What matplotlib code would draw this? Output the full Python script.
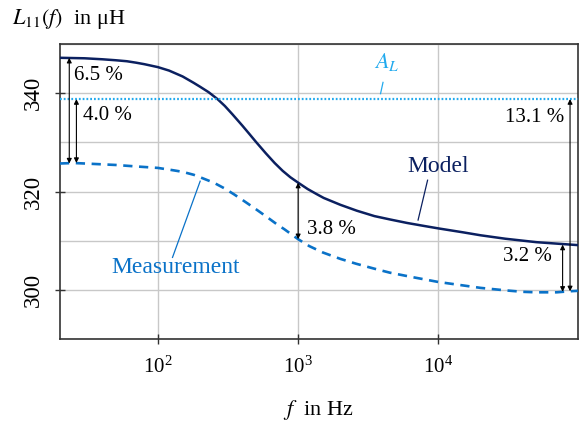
"""Inductance L11(f): model vs. measurement, with A_L reference."""

import matplotlib
matplotlib.use("Agg")
import matplotlib.pyplot as plt
from matplotlib.ticker import FixedLocator, MultipleLocator, NullLocator, LogFormatterMathtext

plt.rcParams["font.family"] = "serif"
plt.rcParams["font.serif"] = ["Liberation Serif", "DejaVu Serif"]
plt.rcParams["mathtext.fontset"] = "stix"

# data
model_f = [20, 30, 40, 50, 60, 70, 80, 100, 120, 150, 180, 200, 230, 266, 300,
           340, 400, 446, 500, 587, 680, 776, 880, 1000, 1170, 1350, 1520, 2000,
           2620, 3500, 4550, 6000, 7900, 10000, 15000, 20000, 30000, 50000,
           70000, 99000]
model_L = [347.2, 347.1, 346.9, 346.7, 346.5, 346.2, 345.9, 345.3, 344.6, 343.4,
           342.1, 341.3, 340.2, 338.8, 337.4, 335.7, 333.4, 331.8, 330.1, 327.8,
           325.8, 324.2, 322.9, 321.8, 320.5, 319.5, 318.7, 317.3, 316.1, 315.0,
           314.3, 313.6, 313.0, 312.5, 311.7, 311.1, 310.4, 309.7, 309.4, 309.1]

meas_f = [20, 25, 30, 50, 70, 100, 130, 150, 180, 200, 250, 300, 350, 400, 450,
          500, 600, 700, 800, 1000, 1200, 1500, 2000, 2600, 3500, 4500, 6500,
          10000, 15000, 20000, 30000, 40000, 50000, 70000, 85000, 99000]
meas_L = [325.7, 325.8, 325.7, 325.4, 325.1, 324.8, 324.3, 324.0, 323.4, 322.9,
          321.8, 320.6, 319.4, 318.3, 317.3, 316.4, 314.8, 313.4, 312.3, 310.3,
          308.9, 307.6, 306.3, 305.3, 304.3, 303.5, 302.6, 301.6, 300.9, 300.4,
          299.9, 299.6, 299.5, 299.5, 299.7, 299.8]

A_L = 338.8

arrow_f = [23.3, 26.2, 1000, 87000, 77000]
arrow_top = [347.2, 338.8, 321.8, 338.8, 309.2]
arrow_bot = [325.7, 325.8, 310.3, 299.7, 299.6]
arrow_text = ["6.5 %", "4.0 %", "3.8 %", "13.1 %", "3.2 %"]

c_model = "#0b2060"
c_meas = "#0a72c8"
c_al = "#22aaee"
c_grid = "#c8c8c8"
c_spine = "#333333"

fig = plt.figure(figsize=(5.8, 4.3), dpi=100)
ax = fig.add_axes([0.1034, 0.2116, 0.893, 0.686])

ax.plot(model_f, model_L, color=c_model, lw=1.8, zorder=3)
ax.plot(meas_f, meas_L, color=c_meas, lw=1.9, ls=(0, (3.5, 2.5)), zorder=3)
ax.axhline(A_L, color=c_al, lw=1.6, ls=(0, (0.8, 0.9)), zorder=3)

ax.set_xscale("log")
ax.set_xlim(20, 9.9e4)
ax.set_ylim(290, 350)

ax.xaxis.set_major_locator(FixedLocator([1e2, 1e3, 1e4]))
ax.xaxis.set_major_formatter(LogFormatterMathtext())
ax.xaxis.set_minor_locator(NullLocator())
ax.yaxis.set_major_locator(FixedLocator([300, 320, 340]))
ax.yaxis.set_minor_locator(MultipleLocator(10))

ax.grid(True, which="major", color=c_grid, lw=1.0, zorder=0)
ax.grid(True, which="minor", axis="y", color=c_grid, lw=1.0, zorder=0)
ax.tick_params(which="major", direction="inout", length=7, width=1.0, color=c_spine)
ax.tick_params(which="minor", length=0)
ax.tick_params(axis="x", labelsize=15, pad=9)
ax.tick_params(axis="y", labelsize=16.5, pad=8, labelrotation=90)
for lab in ax.get_yticklabels():
    lab.set_va("center")
for lab in ax.get_xticklabels():
    lab.set_math_fontfamily("cm")
for sp in ax.spines.values():
    sp.set_color(c_spine)
    sp.set_linewidth(1.2)

# percentage arrows
for f, top, bot in zip(arrow_f, arrow_top, arrow_bot):
    ax.annotate("", xy=(f, top), xytext=(f, bot),
                arrowprops=dict(arrowstyle="<|-|>", mutation_scale=7, lw=0.8,
                                color="black", shrinkA=0, shrinkB=0), zorder=4)

ax.text(25, 343.6, arrow_text[0], fontsize=15, ha="left", va="center")
ax.text(29.4, 335.5, arrow_text[1], fontsize=15, ha="left", va="center")
ax.text(1160, 312.3, arrow_text[2], fontsize=15, ha="left", va="center")
ax.text(78500, 335.0, arrow_text[3], fontsize=15, ha="right", va="center")
ax.text(64500, 306.7, arrow_text[4], fontsize=15, ha="right", va="center")

# curve labels with leader lines
ax.text(10000, 325.1, "Model", color=c_model, fontsize=17, ha="center", va="center")
ax.plot([7170, 8380], [314.2, 322.3], color=c_model, lw=0.9)
ax.text(134, 304.6, "Measurement", color=c_meas, fontsize=17, ha="center", va="center")
ax.plot([127, 200], [306.6, 322.1], color=c_meas, lw=0.9)
ax.text(4250, 346.3, r"$A_L$", color=c_al, fontsize=16, ha="center", va="center")
ax.plot([3870, 4030], [339.9, 342.2], color=c_al, lw=0.9)

fig.text(12 / 580, 1 - 19 / 430, r"$L_{11}(f)$  in μH", fontsize=16, ha="left", va="center")
fig.text(318 / 580, 1 - 410 / 430, r"$f$  in Hz", fontsize=16, ha="center", va="center")

fig.savefig("out.png", dpi=100)
